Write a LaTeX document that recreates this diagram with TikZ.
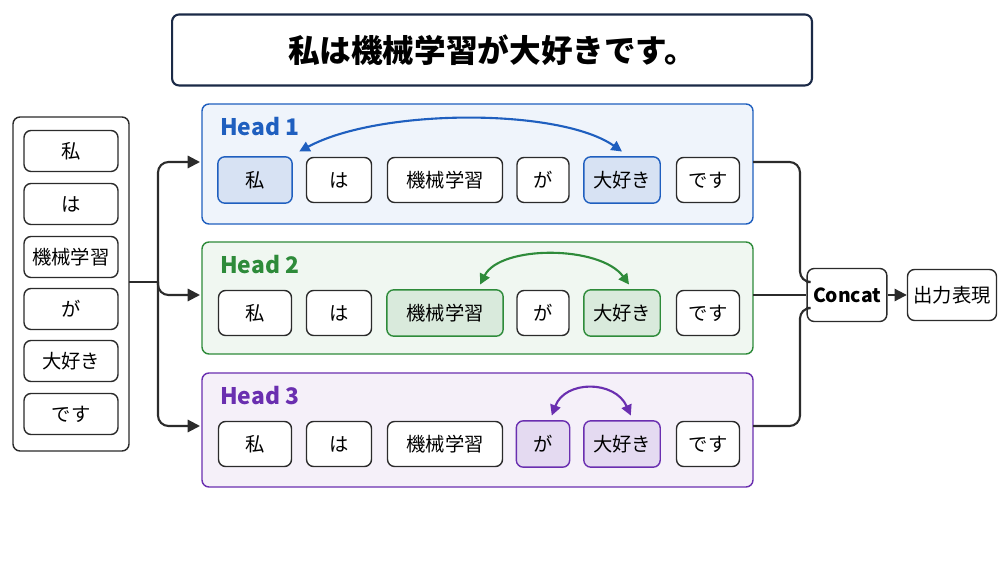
\documentclass[tikz,border=0pt]{standalone}
\usepackage{fontspec}
\setmainfont{Noto Sans CJK JP}
\usetikzlibrary{arrows.meta,positioning}
\definecolor{navy}{HTML}{1B2A47}
\definecolor{hblue}{HTML}{1F5FBF}
\definecolor{hgreen}{HTML}{2E8B3A}
\definecolor{hpurple}{HTML}{6A2FB0}
\definecolor{gridline}{HTML}{2B2B2B}
\tikzset{
  tok/.style={draw=gridline,rounded corners=4pt,line width=0.8pt,fill=white,
    minimum height=0.9cm,inner sep=0pt,font=\fontsize{11}{11}\selectfont},
  panel/.style={rounded corners=4pt,line width=0.8pt},
  link/.style={line width=1.2pt,gridline,rounded corners=6pt},
  tip/.style={-{Triangle[length=7pt,width=7pt]}}
}
\begin{document}
\begin{tikzpicture}[x=0.02cm,y=-0.02cm]
  \useasboundingbox[fill=white] (0,0) rectangle (1000,563);
  % title
  \node[draw=navy,line width=1.2pt,rounded corners=4pt,minimum width=12.8cm,minimum height=1.42cm,
    font=\fontsize{18}{18}\selectfont\bfseries] (title) at (492,50) {私は機械学習が大好きです。};
  % input column
  \draw[panel,draw=gridline] (13,117) rectangle (129,451);
  \foreach \y/\t [count=\i] in {151/私,204/は,257/機械学習,309/が,361/大好き,414/です}
    \node[tok,minimum width=1.88cm,minimum height=0.82cm] (in\i) at (71,\y) {\t};
  \coordinate (inR) at (129,282);
  % heads
  \foreach \h/\col/\top/\bot/\row in {1/hblue/104/224/180, 2/hgreen/242/354/313, 3/hpurple/373/487/444}{
    \draw[panel,draw=\col,fill=\col!7] (202,\top) rectangle (753,\bot);
    \node[anchor=west,text=\col,font=\fontsize{13}{13}\selectfont\bfseries] (lab\h) at (214,\top+23) {Head \h};
    \foreach \x/\w/\t [count=\i] in {255/1.46/私,339/1.30/は,445/2.30/機械学習,543/1.04/が,622/1.50/大好き,708/1.26/です}
      \node[tok,minimum width=\w cm] (h\h t\i) at (\x,\row) {\t};
    \coordinate (hL\h) at (200,\row-18);
    \coordinate (hR\h) at (753,\row-18);
  }
  % highlighted tokens
  \foreach \n/\col in {h1t1/hblue,h1t5/hblue,h2t3/hgreen,h2t5/hgreen,h3t4/hpurple,h3t5/hpurple}
    \draw[\col,fill=\col!18,rounded corners=4pt,line width=0.8pt] (\n.south west) rectangle (\n.north east);
  \foreach \n/\t in {h1t1/私,h1t5/大好き,h2t3/機械学習,h2t5/大好き,h3t4/が,h3t5/大好き}
    \node[font=\fontsize{11}{11}\selectfont] at (\n) {\t};
  % attention arcs
  \draw[hblue,line width=1.2pt,{Triangle[length=6pt,width=6pt]}-{Triangle[length=6pt,width=6pt]}]
    ([xshift=4pt,yshift=3pt]h1t1.north east) .. controls (380,108) and (560,108) .. ([yshift=3pt]h1t5.north);
  \draw[hgreen,line width=1.2pt,{Triangle[length=6pt,width=6pt]}-{Triangle[length=6pt,width=6pt]}]
    ([xshift=20pt,yshift=3pt]h2t3.north) .. controls (500,245) and (600,245) .. ([xshift=4pt,yshift=3pt]h2t5.north);
  \draw[hpurple,line width=1.2pt,{Triangle[length=6pt,width=6pt]}-{Triangle[length=6pt,width=6pt]}]
    ([xshift=5pt,yshift=3pt]h3t4.north) .. controls (565,380) and (615,380) .. ([xshift=5pt,yshift=3pt]h3t5.north);
  % fan out
  \draw[link] (inR) -- (158,282);
  \draw[link,tip] (158,282) |- (hL1);
  \draw[link,tip] (158,282) |- (hL2);
  \draw[link,tip] (158,282) |- (hL3);
  % concat and output
  \node[draw=gridline,rounded corners=4pt,line width=0.8pt,minimum width=1.5cm,minimum height=1.06cm,
    font=\fontsize{11}{11}\selectfont\bfseries] (concat) at (847,295) {Concat};
  \node[draw=gridline,rounded corners=4pt,line width=0.8pt,minimum width=1.5cm,minimum height=1.02cm,
    font=\fontsize{11}{11}\selectfont] (out) at (952,295) {出力表現};
  \draw[link] (hR1) -| (800,282) -- (concat.west|-0,282);
  \draw[link] (hR2) -- (concat.west);
  \draw[link] (hR3) -| (800,308) -- (concat.west|-0,308);
  \draw[link,tip] (concat.east) -- (out.west);
\end{tikzpicture}
\end{document}
